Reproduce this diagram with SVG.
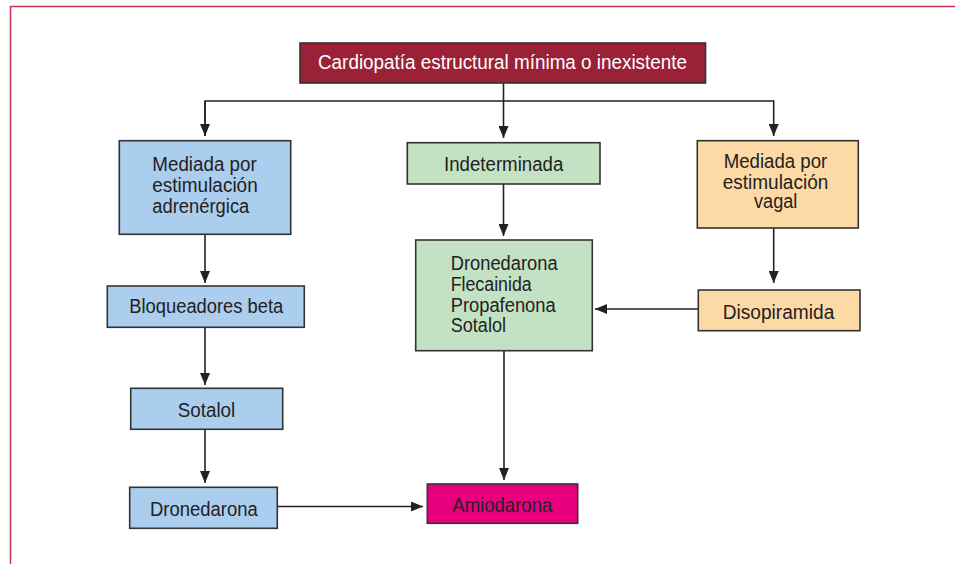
<svg xmlns="http://www.w3.org/2000/svg" width="955" height="564" viewBox="0 0 955 564">
<style>
.box{stroke:#333;stroke-width:1.6}
.t{font-family:"Liberation Sans",Arial,sans-serif;font-size:20px;fill:#222}
.w{fill:#fff}
.blue{fill:#abcdee}
.green{fill:#c3e1c3}
.orange{fill:#fdd9a6}
.red{fill:#9b2236}
.mag{fill:#e8007f}
.c{fill:none;stroke:#222;stroke-width:1.6}
</style>
<defs>
<marker id="ah" markerUnits="userSpaceOnUse" markerWidth="12" markerHeight="10" refX="12" refY="5" orient="auto" viewBox="0 0 12 10">
<path d="M0,0 L12,5 L0,10 z" fill="#222"/>
</marker>
</defs>
<rect width="955" height="564" fill="#fff"/>
<path d="M10.5,564 V6.5 H955" fill="none" stroke="#c8334f" stroke-width="1.5"/>
<g id="connectors">
<path class="c" d="M503.5,83 V138" marker-end="url(#ah)"/>
<path class="c" d="M205,136 V101 H773.7 V136" marker-end="url(#ah)"/>
<path class="c" d="M205,101 V136" marker-end="url(#ah)"/>
<path class="c" d="M503.5,184 V236" marker-end="url(#ah)"/>
<path class="c" d="M205,234 V283" marker-end="url(#ah)"/>
<path class="c" d="M205,327 V385" marker-end="url(#ah)"/>
<path class="c" d="M205,429 V483" marker-end="url(#ah)"/>
<path class="c" d="M277,506.5 H423" marker-end="url(#ah)"/>
<path class="c" d="M504,351 V480" marker-end="url(#ah)"/>
<path class="c" d="M773.7,228 V283" marker-end="url(#ah)"/>
<path class="c" d="M698,309 H595" marker-end="url(#ah)"/>
</g>
<g id="n-title">
<rect class="box red" x="300" y="43" width="405.5" height="40"/>
<text class="t w" x="318" y="68.7" textLength="369" lengthAdjust="spacingAndGlyphs">Cardiopatía estructural mínima o inexistente</text>
</g>
<g id="n-adrenergica">
<rect class="box blue" x="119.3" y="140.7" width="171.4" height="93.6"/>
<text class="t" x="152.3" y="170.7" textLength="104.4" lengthAdjust="spacingAndGlyphs">Mediada por</text>
<text class="t" x="152.3" y="191.7" textLength="105.4" lengthAdjust="spacingAndGlyphs">estimulación</text>
<text class="t" x="152.3" y="212.7" textLength="97" lengthAdjust="spacingAndGlyphs">adrenérgica</text>
</g>
<g id="n-indeterminada">
<rect class="box green" x="407.3" y="142.7" width="192.7" height="41.3"/>
<text class="t" x="444" y="171" textLength="119.3" lengthAdjust="spacingAndGlyphs">Indeterminada</text>
</g>
<g id="n-vagal">
<rect class="box orange" x="697.3" y="140.7" width="161" height="87.3"/>
<text class="t" x="723.7" y="168.3" textLength="103.6" lengthAdjust="spacingAndGlyphs">Mediada por</text>
<text class="t" x="722.7" y="188.5" textLength="105.6" lengthAdjust="spacingAndGlyphs">estimulación</text>
<text class="t" x="754" y="208.3" textLength="43.3" lengthAdjust="spacingAndGlyphs">vagal</text>
</g>
<g id="n-bloqueadores">
<rect class="box blue" x="107.3" y="286" width="197" height="41.3"/>
<text class="t" x="129.3" y="313.3" textLength="154" lengthAdjust="spacingAndGlyphs">Bloqueadores beta</text>
</g>
<g id="n-farmacos">
<rect class="box green" x="415.7" y="240" width="176.6" height="110.7"/>
<text class="t" x="450.7" y="269.5" textLength="107" lengthAdjust="spacingAndGlyphs">Dronedarona</text>
<text class="t" x="450.7" y="290.7" textLength="81" lengthAdjust="spacingAndGlyphs">Flecainida</text>
<text class="t" x="450.7" y="311.5" textLength="105" lengthAdjust="spacingAndGlyphs">Propafenona</text>
<text class="t" x="450.7" y="332" textLength="55.3" lengthAdjust="spacingAndGlyphs">Sotalol</text>
</g>
<g id="n-disopiramida">
<rect class="box orange" x="698.3" y="290" width="161.7" height="40.7"/>
<text class="t" x="722.7" y="319.3" textLength="111.6" lengthAdjust="spacingAndGlyphs">Disopiramida</text>
</g>
<g id="n-sotalol">
<rect class="box blue" x="130.7" y="388.3" width="152" height="41"/>
<text class="t" x="177.7" y="416.7" textLength="57.6" lengthAdjust="spacingAndGlyphs">Sotalol</text>
</g>
<g id="n-dronedarona">
<rect class="box blue" x="129.7" y="487.3" width="147.6" height="41"/>
<text class="t" x="150" y="515.7" textLength="107.7" lengthAdjust="spacingAndGlyphs">Dronedarona</text>
</g>
<g id="n-amiodarona">
<rect class="box mag" x="427.3" y="484" width="150.4" height="39.3"/>
<text class="t" x="452.3" y="511.7" textLength="100" lengthAdjust="spacingAndGlyphs">Amiodarona</text>
</g>
</svg>
